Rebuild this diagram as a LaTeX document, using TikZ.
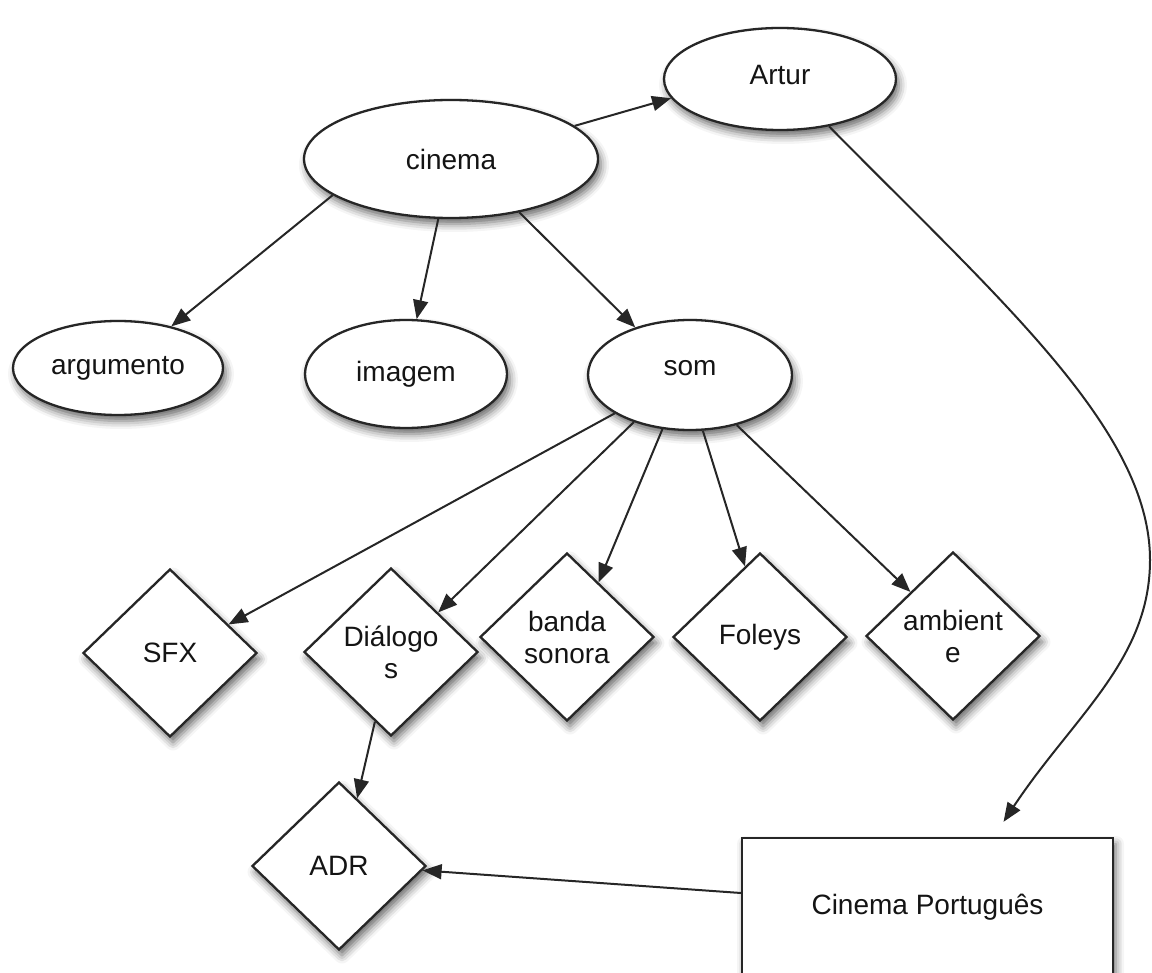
\documentclass[tikz,border=0pt]{standalone}
\usepackage{fontspec}
\setmainfont{Liberation Sans}
\usetikzlibrary{shapes.geometric,arrows.meta,shadows.blur}
\begin{document}
\begin{tikzpicture}[x=1pt,y=-1pt,
  every node/.style={font=\fontsize{28}{32}\selectfont, text=black!92},
  shad/.style={blur shadow={shadow xshift=3pt, shadow yshift=-6pt, shadow blur radius=8pt, shadow opacity=60}},
  ell/.style={ellipse, draw=black!85, line width=2.3pt, fill=white, inner sep=0pt, shad},
  dia/.style={diamond, draw=black!85, line width=2.3pt, fill=white, minimum width=174pt, minimum height=168pt, inner sep=0pt, align=center, shad},
  box/.style={rectangle, draw=black!85, line width=2.3pt, fill=white, minimum width=371pt, minimum height=138pt, inner sep=0pt, shad},
  conn/.style={-{Triangle[length=19pt,width=15pt]}, line width=2pt, draw=black!85}
]
\useasboundingbox (0,0) rectangle (1152,973);

\node[ell, minimum width=294pt, minimum height=118pt] (cinema) at (451,159) {cinema};
\node[ell, minimum width=232pt, minimum height=102pt] (artur) at (780,79) {\raisebox{9pt}{Artur}};
\node[ell, minimum width=210pt, minimum height=94pt] (arg) at (118,368) {\raisebox{5pt}{argumento}};
\node[ell, minimum width=202pt, minimum height=108pt] (img) at (406,374) {imagem};
\node[ell, minimum width=204pt, minimum height=110pt] (som) at (690,375) {\raisebox{15pt}{som}};

\node[dia] (sfx) at (170,653) {SFX};
\node[dia] (dial) at (391,652) {Diálogo\\s};
\node[dia] (banda) at (567,637) {banda\\sonora};
\node[dia] (foleys) at (760,637) {Foleys};
\node[dia] (amb) at (953,636) {ambient\\e};
\node[dia] (adr) at (339,866) {ADR};

\node[box] (cp) at (927.5,907) {Cinema Português};

\draw[conn] (cinema.15) -- (artur.190);
\draw[conn] (cinema.197) -- (arg.38);
\draw[conn] (cinema.258) -- (img.79);
\draw[conn] (cinema.322) -- (som.139);
\draw[conn] (som.207) -- (sfx.26);
\draw[conn] (som.220) -- (dial.40);
\draw[conn] (som.243) -- (banda.60);
\draw[conn] (som.283) -- (foleys.102);
\draw[conn] (som.313) -- (amb.134);
\draw[conn] (dial.257) -- (adr.75);
\coordinate (bend) at (1150,560);
\draw[conn] (artur.316) .. controls (1000,300) and (1150,430) .. (bend)
  .. controls (1150,660) and (1073,717) .. ([xshift=76pt,yshift=15pt]cp.north);
\draw[conn] ([yshift=14pt]cp.west) -- (adr.-3);
\end{tikzpicture}
\end{document}
